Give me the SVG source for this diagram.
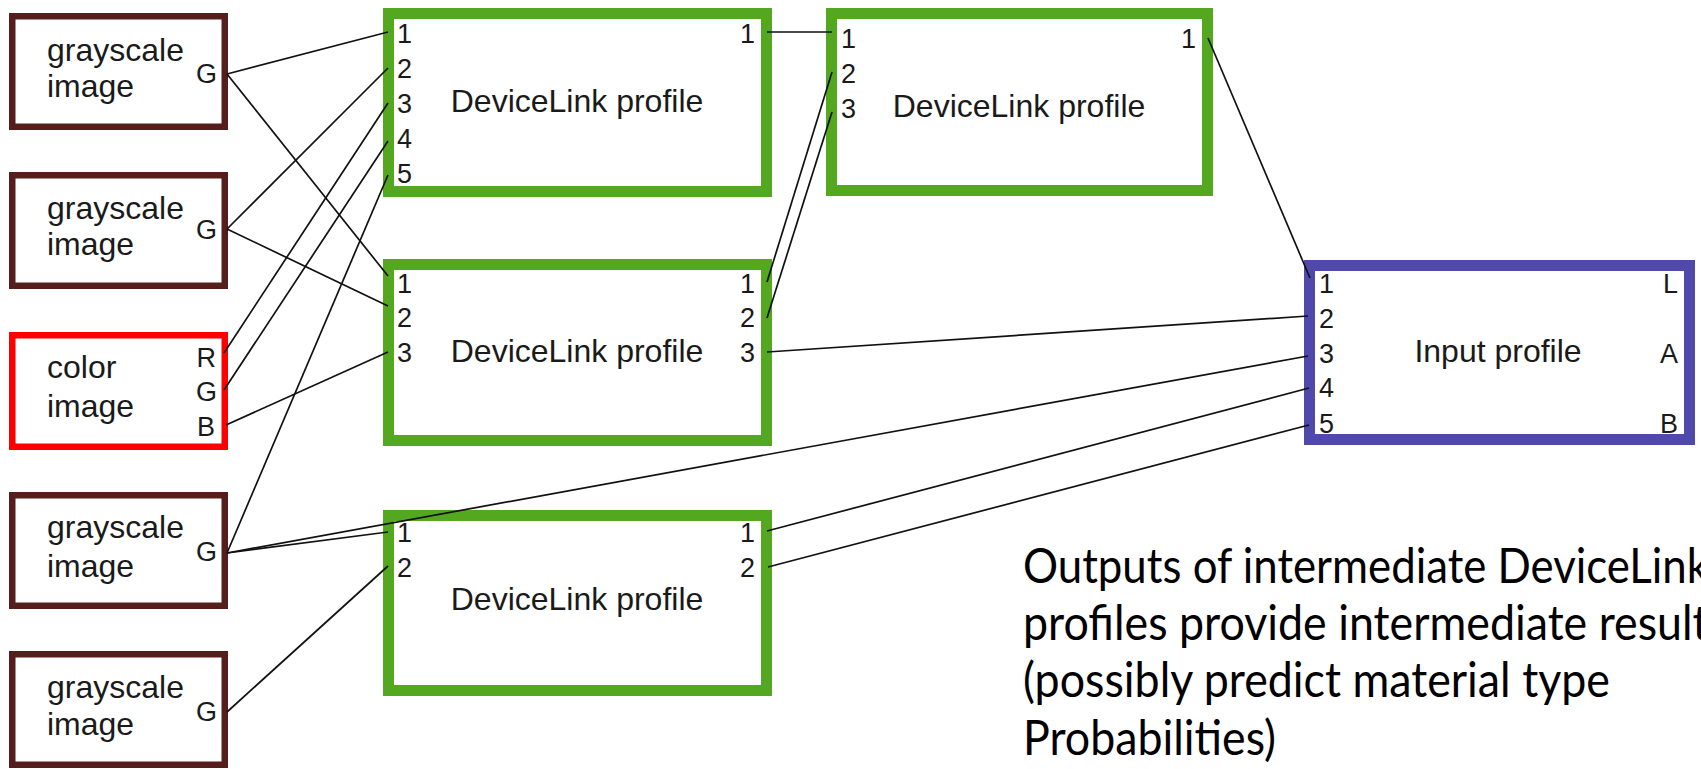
<svg xmlns="http://www.w3.org/2000/svg" width="1701" height="769" viewBox="0 0 1701 769">
<style>
.bg{fill:#ffffff}
.img{fill:#ffffff;stroke:#561d1d;stroke-width:6.5}
.col{fill:#ffffff;stroke:#ff0000;stroke-width:6.5}
.dl{fill:#ffffff;stroke:#53a81f;stroke-width:11}
.inp{fill:#ffffff;stroke:#5048aa;stroke-width:11}
.lbl{font-family:"Liberation Sans",Arial,sans-serif;font-size:32px;fill:#1a1a1a}
.prt{font-family:"Liberation Sans",Arial,sans-serif;font-size:27px;fill:#1a1a1a}
.end{text-anchor:end}
.mid{text-anchor:middle}
.note{font-family:Lato,"Open Sans",sans-serif;font-size:47.5px;fill:#000000}
#connectors line{stroke:#111111;stroke-width:1.7;fill:none}
</style>
<rect class="bg" x="0" y="0" width="1701" height="769"/>

<g id="img1">
<rect class="img" x="12.25" y="16.25" width="212.5" height="110.5"/>
<text class="lbl" x="47" y="61">grayscale</text>
<text class="lbl" x="47" y="97">image</text>
<text class="prt end" x="217" y="83">G</text>
</g>
<g id="img2">
<rect class="img" x="12.25" y="175.25" width="212.5" height="110.5"/>
<text class="lbl" x="47" y="219">grayscale</text>
<text class="lbl" x="47" y="255">image</text>
<text class="prt end" x="217" y="239">G</text>
</g>
<g id="img3">
<rect class="col" x="12.25" y="335.25" width="212.5" height="111.5"/>
<text class="lbl" x="47" y="378">color</text>
<text class="lbl" x="47" y="417">image</text>
<text class="prt end" x="216" y="367">R</text>
<text class="prt end" x="217" y="401">G</text>
<text class="prt end" x="215" y="436">B</text>
</g>
<g id="img4">
<rect class="img" x="12.25" y="495.25" width="212.5" height="110.5"/>
<text class="lbl" x="47" y="538">grayscale</text>
<text class="lbl" x="47" y="577">image</text>
<text class="prt end" x="217" y="561">G</text>
</g>
<g id="img5">
<rect class="img" x="12.25" y="654.25" width="212.5" height="110.5"/>
<text class="lbl" x="47" y="698">grayscale</text>
<text class="lbl" x="47" y="735">image</text>
<text class="prt end" x="217" y="721">G</text>
</g>

<g id="dl1">
<rect class="dl" x="388.5" y="13.5" width="378" height="178"/>
<text class="lbl mid" x="577" y="112">DeviceLink profile</text>
<text class="prt" x="397" y="43">1</text>
<text class="prt" x="397" y="78">2</text>
<text class="prt" x="397" y="113">3</text>
<text class="prt" x="397" y="148">4</text>
<text class="prt" x="397" y="183">5</text>
<text class="prt end" x="755" y="43">1</text>
</g>
<g id="dl2">
<rect class="dl" x="388.5" y="264.5" width="378" height="176"/>
<text class="lbl mid" x="577" y="362">DeviceLink profile</text>
<text class="prt" x="397" y="293">1</text>
<text class="prt" x="397" y="327">2</text>
<text class="prt" x="397" y="362">3</text>
<text class="prt end" x="755" y="293">1</text>
<text class="prt end" x="755" y="327">2</text>
<text class="prt end" x="755" y="362">3</text>
</g>
<g id="dl3">
<rect class="dl" x="388.5" y="515.5" width="378" height="175"/>
<text class="lbl mid" x="577" y="610">DeviceLink profile</text>
<text class="prt" x="397" y="542">1</text>
<text class="prt" x="397" y="577">2</text>
<text class="prt end" x="755" y="542">1</text>
<text class="prt end" x="755" y="577">2</text>
</g>
<g id="dl4">
<rect class="dl" x="831.5" y="13.5" width="376" height="177"/>
<text class="lbl mid" x="1019" y="117">DeviceLink profile</text>
<text class="prt" x="841" y="48">1</text>
<text class="prt" x="841" y="83">2</text>
<text class="prt" x="841" y="118">3</text>
<text class="prt end" x="1196" y="48">1</text>
</g>
<g id="input">
<rect class="inp" x="1309.5" y="265.5" width="380" height="174"/>
<text class="lbl mid" x="1498" y="362">Input profile</text>
<text class="prt" x="1319" y="293">1</text>
<text class="prt" x="1319" y="328">2</text>
<text class="prt" x="1319" y="363">3</text>
<text class="prt" x="1319" y="397">4</text>
<text class="prt" x="1319" y="433">5</text>
<text class="prt end" x="1678" y="293">L</text>
<text class="prt end" x="1678" y="363">A</text>
<text class="prt end" x="1678" y="433">B</text>
</g>

<g id="connectors">
<line x1="227" y1="74" x2="388" y2="32"/>
<line x1="227" y1="74" x2="388" y2="276"/>
<line x1="227" y1="229" x2="388" y2="68"/>
<line x1="227" y1="229" x2="388" y2="306"/>
<line x1="224" y1="353" x2="388" y2="103"/>
<line x1="224" y1="390" x2="388" y2="141"/>
<line x1="226" y1="425" x2="388" y2="352"/>
<line x1="227" y1="553" x2="388" y2="175"/>
<line x1="227" y1="553" x2="388" y2="532"/>
<line x1="227" y1="553" x2="1308" y2="356"/>
<line x1="227" y1="712" x2="388" y2="566"/>
<line x1="767" y1="32" x2="832" y2="32"/>
<line x1="767" y1="282" x2="832" y2="72"/>
<line x1="767" y1="318" x2="832" y2="112"/>
<line x1="767" y1="352" x2="1308" y2="316"/>
<line x1="1208" y1="38" x2="1310" y2="278"/>
<line x1="767" y1="531" x2="1309" y2="388"/>
<line x1="768" y1="567" x2="1309" y2="425"/>
</g>

<g id="note">
<text class="note" x="1023" y="583" textLength="686" lengthAdjust="spacingAndGlyphs">Outputs of intermediate DeviceLink</text>
<text class="note" x="1023" y="640" textLength="705" lengthAdjust="spacingAndGlyphs">profiles provide intermediate results</text>
<text class="note" x="1023" y="697" textLength="587" lengthAdjust="spacingAndGlyphs">(possibly predict material type</text>
<text class="note" x="1023" y="755" textLength="253" lengthAdjust="spacingAndGlyphs">Probabilities)</text>
</g>
</svg>
